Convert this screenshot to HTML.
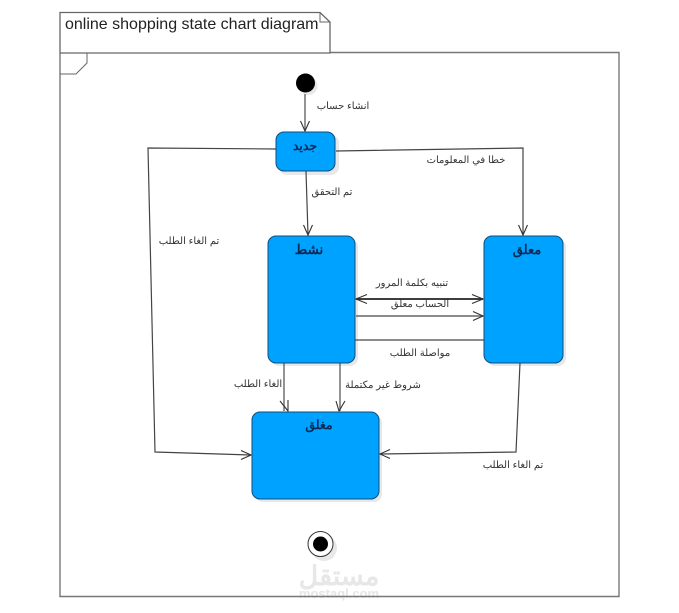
<!DOCTYPE html>
<html><head><meta charset="utf-8"><style>
html,body{margin:0;padding:0;background:#fff;width:679px;height:613px;overflow:hidden}
svg{display:block}
text{font-family:"Liberation Sans","Noto Sans CJK SC",sans-serif}
.l{font-size:10px;fill:#333;text-anchor:middle;direction:rtl}
.t{font-weight:bold;fill:#0a2a55;text-anchor:middle;direction:rtl}
.c{fill:none;stroke:#444;stroke-width:1.2}
.a{fill:none;stroke:#333;stroke-width:1.1}
.s{fill:#00a2ff;stroke:#0b4f7c;stroke-width:1}
.sh{fill:#e8e8e8}
</style></head><body>
<svg width="679" height="613" viewBox="0 0 679 613" xmlns="http://www.w3.org/2000/svg">
<!-- watermark -->
<text x="339" y="585" text-anchor="middle" style="font-size:27px;font-weight:bold;fill:#e7e7e7;direction:rtl">مستقل</text>
<text x="339" y="598" text-anchor="middle" style="font-size:13px;font-weight:bold;fill:#e6e6e6">mostaql.com</text>

<!-- frame -->
<path d="M330 52.500H619V596.500H60V53" fill="none" stroke="#777" stroke-width="1.4"/>
<path d="M60 53V12.500H320L330 22V53H60" fill="#fff" stroke="#666" stroke-width="1.3"/>
<path d="M320 12.500V22H330" fill="none" stroke="#666" stroke-width="1"/>
<path d="M60 74H76L87 63V53" fill="none" stroke="#666" stroke-width="1"/>
<text x="65" y="29" fill="#222" style="font-size:16px">online shopping state chart diagram</text>

<!-- shadows -->
<circle cx="308.500" cy="86" r="9" class="sh"/>
<rect x="279" y="135" width="60" height="40" rx="8" class="sh"/>
<rect x="271" y="239" width="87" height="127" rx="8" class="sh"/>
<rect x="487" y="239" width="79" height="127" rx="8" class="sh"/>
<rect x="255" y="415" width="127" height="87" rx="8" class="sh"/>
<circle cx="324" cy="548" r="13" class="sh"/>

<!-- initial -->
<circle cx="305.500" cy="83" r="9.500" fill="#000"/>
<path d="M305 94V131" fill="none" stroke="#666" stroke-width="1.400"/>
<path d="M300.500 121L305 131L309.500 121" class="a"/>
<text x="343" y="109" class="l">انشاء حساب</text>

<!-- connectors -->
<path d="M276 149L148 148L155 452L251 455" class="c"/>
<path d="M241 450.500L251 455L241 459.500" class="a"/>
<path d="M336 151L523 148V235" class="c"/>
<path d="M518.500 225L523 235L527.500 225" class="a"/>
<path d="M306 171L308 235" class="c"/>
<path d="M303.500 225L308 235L312.500 225" class="a"/>
<path d="M356 299H483" fill="none" stroke="#222" stroke-width="1.700"/>
<path d="M367 294.500L356 299L367 303.500M472 294.500L483 299L472 303.500" class="a"/>
<path d="M356 316H483" fill="none" stroke="#666" stroke-width="1.400"/>
<path d="M473 311.500L483 316L473 320.500" class="a"/>
<path d="M352 340H484" fill="none" stroke="#666" stroke-width="1.400"/>
<path d="M284 363V411" fill="none" stroke="#666" stroke-width="1.400"/>
<path d="M280 401L288 411L288 400" class="a"/>
<path d="M340 363V411" fill="none" stroke="#666" stroke-width="1.400"/>
<path d="M336 401L339 411L345 401" class="a"/>
<path d="M520 363L516 452L380 454" class="c"/>
<path d="M390 449.500L380 454L390 458.500" class="a"/>

<!-- states -->
<rect x="276" y="132" width="59" height="39" rx="8" class="s"/>
<text x="305" y="150" class="t" style="font-size:12.5px">جديد</text>
<rect x="268" y="236" width="87" height="127" rx="8" class="s"/>
<text x="309" y="254" class="t" style="font-size:13.5px">نشط</text>
<rect x="484" y="236" width="79" height="127" rx="8" class="s"/>
<text x="527" y="254" class="t" style="font-size:13px">معلق</text>
<rect x="252" y="412" width="127" height="87" rx="8" class="s"/>
<text x="319" y="429" class="t" style="font-size:12.5px">مغلق</text>

<!-- final -->
<circle cx="320.500" cy="544" r="12.500" fill="#fff" stroke="#333" stroke-width="1"/>
<circle cx="320.500" cy="544" r="7.500" fill="#000"/>

<!-- labels -->
<text x="466" y="163" class="l">خطا في المعلومات</text>
<text x="332" y="195" class="l">تم التحقق</text>
<text x="189" y="244" class="l">تم الغاء الطلب</text>
<text x="412" y="286" class="l">تنبيه بكلمة المرور</text>
<text x="420" y="307" class="l">الحساب معلق</text>
<text x="420" y="356" class="l">مواصلة الطلب</text>
<text x="258" y="387" class="l">الغاء الطلب</text>
<text x="383" y="388" class="l">شروط غير مكتملة</text>
<text x="513" y="468" class="l">تم الغاء الطلب</text>
</svg>
</body></html>
